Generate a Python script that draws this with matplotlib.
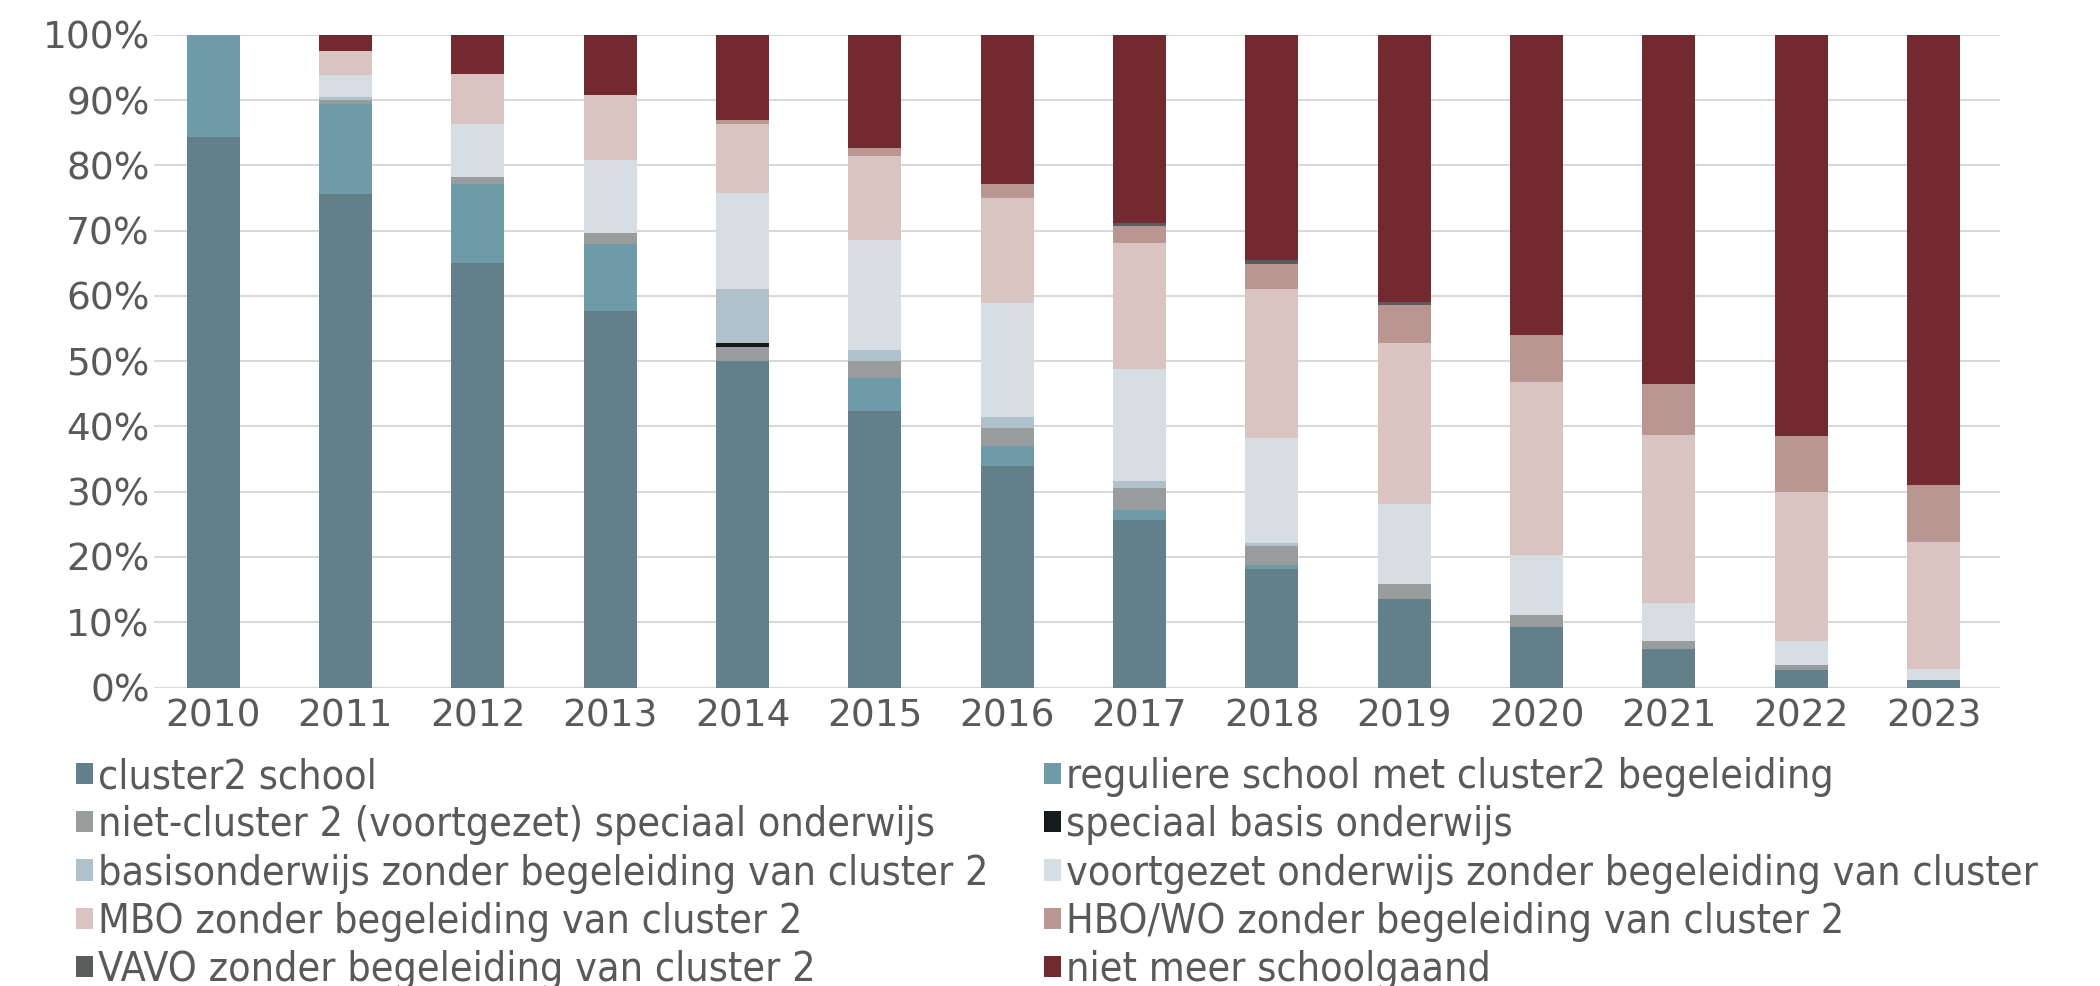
import numpy as np
import matplotlib
matplotlib.use("Agg")
import matplotlib.pyplot as plt
from matplotlib.patches import Patch
from matplotlib import font_manager

years = [str(y) for y in range(2010, 2024)]

labels = [
    "cluster2 school",
    "reguliere school met cluster2 begeleiding",
    "niet-cluster 2 (voortgezet) speciaal onderwijs",
    "speciaal basis onderwijs",
    "basisonderwijs zonder begeleiding van cluster 2",
    "voortgezet onderwijs zonder begeleiding van cluster",
    "MBO zonder begeleiding van cluster 2",
    "HBO/WO zonder begeleiding van cluster 2",
    "VAVO zonder begeleiding van cluster 2",
    "niet meer schoolgaand",
]

colors = ["#637f8a", "#6f9aa8", "#999c9d", "#151a1d", "#afc1ca",
          "#d6dee4", "#d9c4c1", "#b99692", "#595d5e", "#722930"]

# shares per year (%), stacked bottom to top in the order of labels
cluster2     = [84.3, 75.6, 65.0, 57.7, 50.0, 42.3, 33.9, 25.6, 18.1, 13.5, 9.3, 5.9, 2.7, 1.2]
regulier     = [15.7, 13.8, 12.2, 10.2, 0.0, 5.1, 3.1, 1.6, 0.6, 0.0, 0.0, 0.0, 0.0, 0.0]
niet_cl2     = [0.0, 0.6, 1.0, 1.7, 2.2, 2.6, 2.7, 3.4, 3.0, 2.4, 1.8, 1.2, 0.7, 0.0]
sbo          = [0.0, 0.0, 0.0, 0.0, 0.6, 0.0, 0.0, 0.0, 0.0, 0.0, 0.0, 0.0, 0.0, 0.0]
basis        = [0.0, 0.5, 0.0, 0.0, 8.3, 1.7, 1.8, 1.1, 0.5, 0.0, 0.0, 0.0, 0.0, 0.0]
voortgezet   = [0.0, 3.3, 8.1, 11.2, 14.7, 16.8, 17.4, 17.1, 16.0, 12.2, 9.2, 5.8, 3.7, 1.6]
mbo          = [0.0, 3.7, 7.7, 10.0, 10.5, 13.0, 16.1, 19.3, 22.9, 24.7, 26.5, 25.8, 22.9, 19.5]
hbo_wo       = [0.0, 0.0, 0.0, 0.0, 0.7, 1.1, 2.2, 2.6, 3.8, 5.8, 7.2, 7.8, 8.5, 8.8]
vavo         = [0.0, 0.0, 0.0, 0.0, 0.0, 0.0, 0.0, 0.5, 0.6, 0.5, 0.0, 0.0, 0.0, 0.0]
niet_meer    = [0.0, 2.5, 6.0, 9.2, 13.0, 17.4, 22.8, 28.8, 34.5, 40.9, 46.0, 53.5, 61.5, 68.9]

series = [cluster2, regulier, niet_cl2, sbo, basis, voortgezet, mbo, hbo_wo, vavo, niet_meer]

text_col = "#595959"
grid_col = "#d9d9d9"

# narrower regular face for the legend if one is installed
names = {f.name for f in font_manager.fontManager.ttflist}
cond = [f for f in font_manager.fontManager.ttflist
        if f.name == "DejaVu Sans"
        and "condensed" in f.fname.lower()
        and "bold" not in f.fname.lower()
        and "oblique" not in f.fname.lower()]
if cond:
    leg_font = font_manager.FontProperties(fname=cond[0].fname, size=29.5)
elif "Liberation Sans Narrow" in names:
    leg_font = font_manager.FontProperties(family="Liberation Sans Narrow", size=30)
else:
    leg_font = font_manager.FontProperties(family="DejaVu Sans", size=27)

fig = plt.figure(figsize=(21, 9.86), dpi=100)
ax = fig.add_axes([0.0733, 0.3027, 0.879, 0.662])

x = np.arange(len(years))
bottom = np.zeros(len(years))
for vals, col in zip(series, colors):
    vals = np.array(vals)
    ax.bar(x, vals, 0.4, bottom=bottom, color=col, zorder=2)
    bottom += vals

ax.set_xlim(-0.447, len(years) - 0.5)
ax.set_ylim(0, 100)
ax.set_yticks(np.arange(0, 101, 10))
ax.set_yticklabels([f"{v}%" for v in range(0, 101, 10)])
ax.set_xticks(x)
ax.set_xticklabels(years)
ax.tick_params(axis="both", length=0, labelsize=27, colors=text_col)
ax.tick_params(axis="x", pad=8)
ax.tick_params(axis="y", pad=3)
ax.grid(axis="y", color=grid_col, linewidth=1.5, zorder=0)
for s in ax.spines.values():
    s.set_visible(False)

handles = [Patch(facecolor=c, edgecolor="none") for c in colors]
leg_kw = dict(frameon=False, prop=leg_font, labelcolor=text_col,
              handlelength=0.42, handleheight=0.42, handletextpad=0.13,
              labelspacing=0.2, borderpad=0, borderaxespad=0, loc="upper left")
fig.legend(handles[0::2], labels[0::2], bbox_to_anchor=(0.036, 0.232), **leg_kw)
fig.legend(handles[1::2], labels[1::2], bbox_to_anchor=(0.497, 0.232), **leg_kw)

fig.savefig("out.png", dpi=100)
